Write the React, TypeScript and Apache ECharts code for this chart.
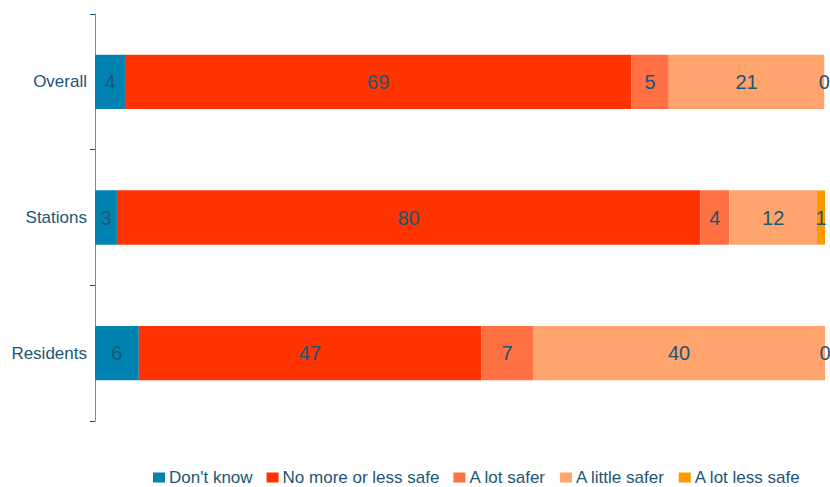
import React, { useEffect, useRef } from "react";
import * as echarts from "echarts";

const categories = ["Overall", "Stations", "Residents"];
const seriesNames = ["Don't know", "No more or less safe", "A lot safer", "A little safer", "A lot less safe"];
const dontKnow = [4.1, 3.0, 6.0];
const noMoreOrLess = [69.4, 79.9, 46.9];
const aLotSafer = [5.1, 4.0, 7.1];
const aLittleSafer = [21.3, 12.0, 40.0];
const aLotLessSafe = [0, 1.1, 0];
const seriesValues = [dontKnow, noMoreOrLess, aLotSafer, aLittleSafer, aLotLessSafe];
const colors = ["#0083B0", "#FF3300", "#FF7043", "#FFA46D", "#FF9900"];

const textColor = "#1D5674";
const font = "'Liberation Sans', Arial, sans-serif";

export default function App() {
  const ref = useRef<HTMLDivElement>(null);
  useEffect(() => {
    if (!ref.current) return;
    const chart = echarts.init(ref.current, null, { renderer: "svg" });
    chart.setOption({
      animation: false,
      textStyle: { fontFamily: font },
      grid: { left: 95, right: 5, top: 14, bottom: 66, containLabel: false },
      legend: {
        top: 464,
        left: 148,
        padding: 5,
        itemWidth: 12,
        itemHeight: 10,
        itemGap: 14,
        icon: "rect",
        textStyle: { color: textColor, fontSize: 17, fontFamily: font, padding: [0, 0, 0, -1] },
        data: seriesNames,
      },
      xAxis: {
        type: "value",
        min: 0,
        max: 100,
        show: false,
      },
      yAxis: {
        type: "category",
        inverse: true,
        data: categories,
        axisLine: { show: true, lineStyle: { color: "#6E8EA3", width: 1 } },
        axisTick: { show: true, length: 5, lineStyle: { color: "#1D4E6A" } },
        axisLabel: { color: textColor, fontSize: 17, fontFamily: font, margin: 8 },
        splitLine: { show: false },
      },
      series: seriesNames.map((name, i) => ({
        name,
        type: "bar",
        stack: "total",
        barWidth: "40%",
        itemStyle: { color: colors[i] },
        label: {
          show: true,
          position: "inside",
          color: textColor,
          fontSize: 20,
          fontFamily: font,
          formatter: (p: any) => String(Math.round(p.value)),
        },
        data: seriesValues[i],
      })),
    });
    return () => chart.dispose();
  }, []);
  return <div ref={ref} style={{ position: "absolute", left: 0, top: 0, width: 830, height: 487 }} />;
}
